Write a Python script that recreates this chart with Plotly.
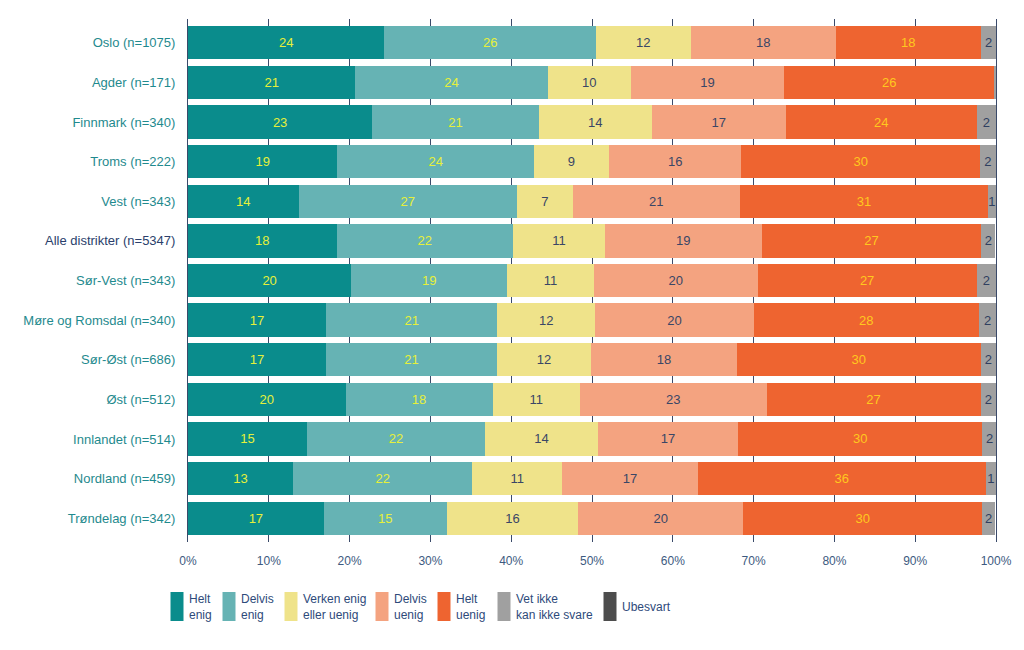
import plotly.graph_objects as go

categories = ["Oslo (n=1075)", "Agder (n=171)", "Finnmark (n=340)", "Troms (n=222)",
              "Vest (n=343)", "Alle distrikter (n=5347)", "Sør-Vest (n=343)",
              "Møre og Romsdal (n=340)", "Sør-Øst (n=686)", "Øst (n=512)",
              "Innlandet (n=514)", "Nordland (n=459)", "Trøndelag (n=342)"]

series_names = ["Helt enig", "Delvis enig", "Verken enig eller uenig", "Delvis uenig",
                "Helt uenig", "Vet ikke kan ikke svare", "Ubesvart"]
legend_labels = ["Helt<br>enig", "Delvis<br>enig", "Verken enig<br>eller uenig", "Delvis<br>uenig",
                 "Helt<br>uenig", "Vet ikke<br>kan ikke svare", "Ubesvart"]

helt_enig = [24.3, 20.7, 22.8, 18.5, 13.7, 18.4, 20.2, 17.1, 17.1, 19.5, 14.7, 13.0, 16.8]
delvis_enig = [26.2, 23.8, 20.6, 24.3, 27.0, 21.8, 19.3, 21.2, 21.1, 18.2, 22.1, 22.2, 15.2]
verken = [11.7, 10.3, 14.0, 9.3, 6.9, 11.4, 10.7, 12.1, 11.7, 10.8, 13.9, 11.1, 16.3]
delvis_uenig = [18.0, 19.0, 16.6, 16.4, 20.7, 19.4, 20.3, 19.6, 18.0, 23.1, 17.4, 16.8, 20.4]
helt_uenig = [17.9, 26.0, 23.6, 29.5, 30.7, 27.2, 27.1, 27.9, 30.2, 26.5, 30.2, 35.6, 29.6]
vet_ikke = [2.0, 0.3, 2.4, 2.0, 1.0, 1.7, 2.4, 2.1, 1.9, 1.9, 1.8, 1.3, 1.6]
ubesvart = [0, 0, 0, 0, 0, 0, 0, 0, 0, 0, 0, 0, 0]

# printed labels
lbl_helt_enig = ["24", "21", "23", "19", "14", "18", "20", "17", "17", "20", "15", "13", "17"]
lbl_delvis_enig = ["26", "24", "21", "24", "27", "22", "19", "21", "21", "18", "22", "22", "15"]
lbl_verken = ["12", "10", "14", "9", "7", "11", "11", "12", "12", "11", "14", "11", "16"]
lbl_delvis_uenig = ["18", "19", "17", "16", "21", "19", "20", "20", "18", "23", "17", "17", "20"]
lbl_helt_uenig = ["18", "26", "24", "30", "31", "27", "27", "28", "30", "27", "30", "36", "30"]
lbl_vet_ikke = ["2", "", "2", "2", "1", "2", "2", "2", "2", "2", "2", "1", "2"]
lbl_ubesvart = [""] * 13

xticks = [0, 10, 20, 30, 40, 50, 60, 70, 80, 90, 100]
xticklabels = ["0%", "10%", "20%", "30%", "40%", "50%", "60%", "70%", "80%", "90%", "100%"]

colors = ["#0a8c8c", "#66b3b4", "#efe38a", "#f4a380", "#ee6430", "#a0a0a0", "#4d4d4d"]
label_colors = ["#e6f03a", "#e6f03a", "#3a4666", "#3a4666", "#ffc81e", "#2f3f60", "#ffffff"]

values = [helt_enig, delvis_enig, verken, delvis_uenig, helt_uenig, vet_ikke, ubesvart]
labels = [lbl_helt_enig, lbl_delvis_enig, lbl_verken, lbl_delvis_uenig, lbl_helt_uenig,
          lbl_vet_ikke, lbl_ubesvart]

FONT = "Liberation Sans, Arial, sans-serif"

fig = go.Figure()
for name, vals, txt, col, lcol in zip(series_names, values, labels, colors, label_colors):
    fig.add_trace(go.Bar(
        y=list(range(len(categories))), x=vals, name=name, orientation="h",
        marker=dict(color=col, line=dict(width=0)),
        text=txt, textposition="inside", insidetextanchor="middle", textangle=0,
        textfont=dict(color=lcol, size=13, family=FONT),
        hoverinfo="skip", showlegend=False,
    ))

ticktext = []
for c in categories:
    if c.startswith("Alle"):
        ticktext.append("<span style='color:#2b3f6c'>" + c + "</span>")
    else:
        ticktext.append(c)

# page body has an 8px margin: figure is drawn at (8, 8)
OFF = 8
W, H = 1024 - OFF, 650 - OFF
L, R, T, B = 188 - OFF, 996 - OFF, 19 - OFF, 542 - OFF
fig.update_layout(
    width=W, height=H,
    margin=dict(l=L, r=W - R, t=T, b=H - B, pad=0),
    barmode="stack", bargap=0.157,
    plot_bgcolor="white", paper_bgcolor="white",
    uniformtext=dict(minsize=13, mode="show"),
    font=dict(family=FONT),
    xaxis=dict(range=[0, 100], tickvals=xticks, ticktext=xticklabels,
               showgrid=True, gridcolor="#3a4a6a", gridwidth=1, zeroline=False,
               showline=False, ticks="", ticklabelstandoff=10,
               tickfont=dict(family=FONT, size=12, color="#3d5a80")),
    yaxis=dict(range=[12.6, -0.6], tickvals=list(range(len(categories))), ticktext=ticktext,
               showgrid=False, zeroline=False, showline=True, mirror=True,
               linecolor="#3a4a6a", linewidth=1, ticks="", ticklabelstandoff=9,
               tickfont=dict(size=13, color="#1f8a8e", family=FONT)),
)

# custom legend, positions given in reference-image pixels
def px_x(p):
    return (p - OFF - L) / (R - L)

def px_y(p):
    return (B - (p - OFF)) / (B - T)

text_w = [25, 35, 64, 35, 33, 79, 48]   # approx. rendered text widths (12px)
box_w, gap, spacing = 13, 3, 11
total = sum(box_w + gap + w for w in text_w) + spacing * (len(text_w) - 1)
x = 419 - total / 2
box_top, box_bot = 592, 621
for w, col, lab in zip(text_w, colors, legend_labels):
    fig.add_shape(type="rect", xref="paper", yref="paper",
                  x0=px_x(x), x1=px_x(x + box_w), y0=px_y(box_bot), y1=px_y(box_top),
                  fillcolor=col, line=dict(width=0))
    fig.add_annotation(xref="paper", yref="paper", x=px_x(x + box_w + gap), y=px_y(607),
                       text=lab, showarrow=False, xanchor="left", yanchor="middle", align="left",
                       font=dict(family=FONT, size=12, color="#2e4a7a"))
    x += box_w + gap + w + spacing

fig.write_html("out.html")
